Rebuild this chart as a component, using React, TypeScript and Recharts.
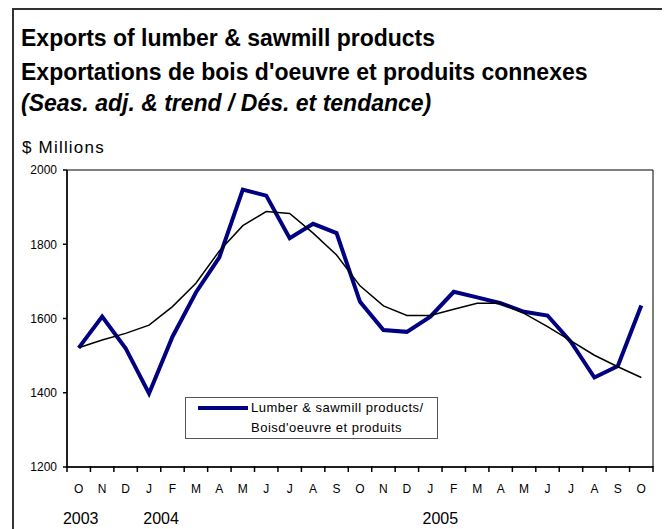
import React from 'react';
import { LineChart, Line, XAxis, YAxis, ReferenceArea } from 'recharts';

const months = ['O','N','D','J','F','M','A','M','J','J','A','S','O','N','D','J','F','M','A','M','J','J','A','S','O'];
const yearLabels = ['2003','','','2004','','','','','','','','','','','','2005','','','','','','','','',''];
const yearShift = [2,0,0,12,0,0,0,0,0,0,0,0,0,0,0,10,0,0,0,0,0,0,0,0,0];
const lumber = [1521,1605,1520,1398,1551,1670,1765,1947,1931,1816,1855,1830,1645,1569,1564,1605,1672,1657,1641,1618,1608,1537,1441,1472,1635];
const trend = [1521,1542,1560,1582,1632,1695,1782,1850,1888,1883,1830,1771,1688,1634,1608,1608,1625,1641,1641,1614,1578,1540,1501,1470,1441];
const yTicks = [1200,1400,1600,1800,2000];
const legendLines = ['Lumber & sawmill products/', "Boisd'oeuvre et produits"];

const data = months.map((m, i) => ({ i, month: m, lumber: lumber[i], trend: trend[i] }));
const xTicks: number[] = [];
for (let k = 0; k <= months.length; k++) {
  xTicks.push(k - 0.5);
  if (k < months.length) xTicks.push(k);
}

const FONT = '"Liberation Sans", Arial, sans-serif';

const XTick = (props: any) => {
  const { x, y, payload } = props;
  const v = payload.value;
  if (!Number.isInteger(v)) {
    return <line x1={x} x2={x} y1={y - 1} y2={y + 5} stroke="#000" strokeWidth={1.5} />;
  }
  return (
    <g>
      <text x={x} y={y + 26} textAnchor="middle" fontSize={12} fill="#000" fontFamily={FONT}>{months[v]}</text>
      {yearLabels[v] ? (
        <text x={x + yearShift[v]} y={y + 57} textAnchor="middle" fontSize={16} fill="#000" fontFamily={FONT}>{yearLabels[v]}</text>
      ) : null}
    </g>
  );
};

export default function App() {
  return (
    <div style={{ position: 'relative', width: 662, height: 521, overflow: 'hidden', fontFamily: FONT, color: '#000' }}>
      <div style={{ position: 'absolute', left: 4, top: 0, width: 700, height: 600, borderTop: '2px solid #333', borderLeft: '2px solid #333' }} />
      <div style={{ position: 'absolute', left: 13, top: 17, fontSize: 23, lineHeight: '26px', fontWeight: 'bold', whiteSpace: 'nowrap' }}>Exports of lumber &amp; sawmill products</div>
      <div style={{ position: 'absolute', left: 13, top: 51, fontSize: 23, lineHeight: '26px', fontWeight: 'bold', whiteSpace: 'nowrap' }}>Exportations de bois d'oeuvre et produits connexes</div>
      <div style={{ position: 'absolute', left: 13, top: 82, fontSize: 23, lineHeight: '26px', fontWeight: 'bold', fontStyle: 'italic', whiteSpace: 'nowrap' }}>(Seas. adj. &amp; trend / Dés. et tendance)</div>
      <div style={{ position: 'absolute', left: 14, top: 130, fontSize: 17, lineHeight: '20px', letterSpacing: 1.2, whiteSpace: 'nowrap' }}>$ Millions</div>
      <div style={{ position: 'absolute', left: 0, top: 0 }}>
        <LineChart width={662} height={521} data={data} margin={{ top: 162, right: 17, bottom: 0, left: 0 }} style={{ fontFamily: FONT }}>
          <XAxis
            dataKey="i"
            type="number"
            domain={[-0.5, months.length - 0.5]}
            ticks={xTicks}
            interval={0}
            height={62}
            tickSize={0}
            tickMargin={0}
            tickLine={false}
            tick={<XTick />}
            axisLine={{ stroke: '#000', strokeWidth: 1.5 }}
          />
          <YAxis
            type="number"
            domain={[1200, 2000]}
            ticks={yTicks}
            interval={0}
            width={59}
            tickSize={4}
            tickMargin={6}
            tickLine={{ stroke: '#000', strokeWidth: 1.5 }}
            axisLine={{ stroke: '#000', strokeWidth: 1.5 }}
            tick={{ fontSize: 12, fill: '#000', fontFamily: FONT }}
          />
          <ReferenceArea x1={-0.5} x2={months.length - 0.5} y1={1200} y2={2000} fill="none" fillOpacity={0} stroke="#000" strokeWidth={1} />
          <Line type="linear" dataKey="lumber" stroke="#000080" strokeWidth={4} dot={false} activeDot={false} isAnimationActive={false} />
          <Line type="linear" dataKey="trend" stroke="#000" strokeWidth={1.5} dot={false} activeDot={false} isAnimationActive={false} />
        </LineChart>
      </div>
      <div style={{ position: 'absolute', left: 177, top: 389, width: 253, height: 42, boxSizing: 'border-box', border: '1px solid #555', background: '#fff' }}>
        <div style={{ position: 'absolute', left: 12, top: 8, width: 50, height: 4, background: '#000080' }} />
        {legendLines.map((t, k) => (
          <div key={k} style={{ position: 'absolute', left: 65, top: k * 20, fontSize: 13, lineHeight: '20px', letterSpacing: 0.5, whiteSpace: 'nowrap' }}>{t}</div>
        ))}
      </div>
    </div>
  );
}
